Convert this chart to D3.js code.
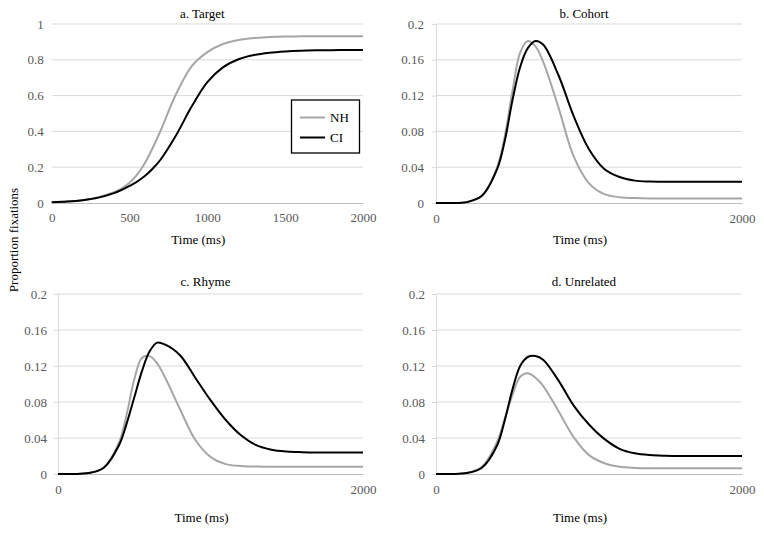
<!DOCTYPE html>
<html>
<head>
<meta charset="utf-8">
<script src="https://cdn.jsdelivr.net/npm/d3@7"></script>
<style>
  html, body { margin: 0; padding: 0; background: #fff; }
  svg text { font-family: "Liberation Serif", "DejaVu Serif", serif !important; }
</style>
</head>
<body>
<svg id="chart" width="764" height="534"></svg>
<script>
// ---- data ----
const times = [0,100,200,300,400,450,500,550,600,650,700,800,900,1000,1100,1200,1300,1400,1500,1600,1700,1800,1900,2000];

const targetNH = [0.004,0.008,0.016,0.032,0.06,0.082,0.113,0.16,0.225,0.31,0.405,0.61,0.765,0.843,0.888,0.911,0.922,0.927,0.93,0.931,0.932,0.932,0.932,0.932];
const targetCI = [0.004,0.008,0.016,0.03,0.055,0.073,0.095,0.12,0.152,0.193,0.243,0.38,0.54,0.675,0.758,0.803,0.827,0.84,0.847,0.851,0.853,0.854,0.855,0.855];

const cohortNH = [0,0,0.001,0.008,0.04,0.075,0.125,0.168,0.181,0.175,0.158,0.107,0.052,0.022,0.01,0.0065,0.0055,0.005,0.005,0.005,0.005,0.005,0.005,0.005];
const cohortCI = [0,0,0.001,0.008,0.038,0.07,0.115,0.152,0.173,0.181,0.177,0.143,0.097,0.06,0.038,0.029,0.025,0.024,0.0238,0.0238,0.0238,0.0238,0.0238,0.0238];

const rhymeNH = [0,0,0.001,0.007,0.035,0.066,0.105,0.129,0.131,0.123,0.108,0.072,0.038,0.019,0.011,0.0088,0.0082,0.008,0.008,0.008,0.008,0.008,0.008,0.008];
const rhymeCI = [0,0,0.001,0.007,0.032,0.056,0.085,0.114,0.136,0.146,0.144,0.132,0.107,0.082,0.06,0.043,0.032,0.027,0.025,0.0243,0.024,0.024,0.024,0.024];

const unrelNH = [0,0,0.001,0.008,0.036,0.062,0.088,0.108,0.112,0.107,0.098,0.07,0.041,0.021,0.012,0.008,0.0068,0.0063,0.0063,0.0063,0.0063,0.0063,0.0063,0.0063];
const unrelCI = [0,0,0.001,0.007,0.032,0.06,0.094,0.12,0.13,0.131,0.127,0.104,0.076,0.055,0.039,0.028,0.023,0.021,0.0203,0.02,0.02,0.02,0.02,0.02];

const panelTitles = ["a. Target", "b. Cohort", "c. Rhyme", "d. Unrelated"];
const targetYTicks = [0, 0.2, 0.4, 0.6, 0.8, 1];
const smallYTicks = [0, 0.04, 0.08, 0.12, 0.16, 0.2];
const targetXTicks = [0, 500, 1000, 1500, 2000];
const smallXTicks = [0, 2000];
const seriesNames = ["NH", "CI"];
const xTitle = "Time (ms)";
const yTitle = "Proportion fixations";

// ---- layout / styles ----
const FONT = "'Liberation Serif', 'DejaVu Serif', serif";
const colors = { NH: "#a6a6a6", CI: "#000000" };
const panels = [
  { title: panelTitles[0], nh: targetNH, ci: targetCI, yMax: 1,   yTicks: targetYTicks, xTicks: targetXTicks,
    x0: 51.7, x1: 363, y0: 203, y1: 24, yAxisLine: false,
    xLblY: 222, xTitleY: 244, titleY: 18, lblGap: 8 },
  { title: panelTitles[1], nh: cohortNH, ci: cohortCI, yMax: 0.2, yTicks: smallYTicks, xTicks: smallXTicks,
    x0: 436, x1: 742, y0: 203, y1: 24, yAxisLine: true,
    xLblY: 223, xTitleY: 244, titleY: 18, lblGap: 12 },
  { title: panelTitles[2], nh: rhymeNH, ci: rhymeCI, yMax: 0.2, yTicks: smallYTicks, xTicks: smallXTicks,
    x0: 58, x1: 363, y0: 474, y1: 294, yAxisLine: true,
    xLblY: 494, xTitleY: 522, titleY: 286, lblGap: 11 },
  { title: panelTitles[3], nh: unrelNH, ci: unrelCI, yMax: 0.2, yTicks: smallYTicks, xTicks: smallXTicks,
    x0: 436, x1: 742, y0: 474, y1: 294, yAxisLine: true,
    xLblY: 494, xTitleY: 522, titleY: 286, lblGap: 11 }
];

const svg = d3.select("#chart");

panels.forEach(p => {
  const x = d3.scaleLinear().domain([0, 2000]).range([p.x0, p.x1]);
  const y = d3.scaleLinear().domain([0, p.yMax]).range([p.y0, p.y1]);
  const g = svg.append("g");

  // gridlines
  g.append("g").selectAll("line").data(p.yTicks.filter(t => t > 0)).join("line")
    .attr("x1", p.x0).attr("x2", p.x1)
    .attr("y1", d => y(d)).attr("y2", d => y(d))
    .attr("stroke", "#d9d9d9").attr("stroke-width", 1);

  // y axis
  const yAxis = d3.axisLeft(y).tickValues(p.yTicks).tickFormat(d3.format("~g"))
    .tickSize(p.yAxisLine ? 4 : 0).tickPadding(p.yAxisLine ? p.lblGap - 4 : p.lblGap);
  const ya = g.append("g").attr("transform", `translate(${p.x0},0)`).call(yAxis)
    .attr("font-family", FONT).attr("font-size", 13);
  ya.select(".domain").attr("stroke", p.yAxisLine ? "#d9d9d9" : "none");
  ya.selectAll(".tick line").attr("stroke", "#d9d9d9");
  ya.selectAll("text").attr("fill", "#595959").attr("font-family", FONT).attr("font-size", 13);

  // x axis
  const xAxis = d3.axisBottom(x).tickValues(p.xTicks).tickFormat(d3.format("d")).tickSize(0).tickPadding(0);
  const xa = g.append("g").attr("transform", `translate(0,${p.y0})`).call(xAxis)
    .attr("font-family", FONT).attr("font-size", 13);
  xa.select(".domain").attr("stroke", "#bfbfbf");
  xa.selectAll("text").attr("fill", "#595959").attr("font-family", FONT).attr("font-size", 13)
    .attr("dy", null).attr("y", p.xLblY - p.y0);

  // lines
  const line = d3.line().x((d, i) => x(times[i])).y(d => y(Math.max(0, d))).curve(d3.curveCatmullRom.alpha(0.5));
  g.append("path").datum(p.nh).attr("d", line).attr("fill", "none")
    .attr("stroke", colors.NH).attr("stroke-width", 2);
  g.append("path").datum(p.ci).attr("d", line).attr("fill", "none")
    .attr("stroke", colors.CI).attr("stroke-width", 2);

  // title
  g.append("text").attr("x", (p.x0 + p.x1) / 2 - 5).attr("y", p.titleY).attr("text-anchor", "middle")
    .attr("font-family", FONT).attr("font-size", 13).attr("fill", "#000").text(p.title);
  // x title
  g.append("text").attr("x", (p.x0 + p.x1) / 2 - 9).attr("y", p.xTitleY).attr("text-anchor", "middle")
    .attr("font-family", FONT).attr("font-size", 13).attr("fill", "#000").text(xTitle);
});

// y axis title
svg.append("text")
  .attr("transform", "translate(18,240) rotate(-90)")
  .attr("text-anchor", "middle")
  .attr("font-family", FONT).attr("font-size", 13).attr("fill", "#000").text(yTitle);

// legend
const lg = svg.append("g");
lg.append("rect").attr("x", 291.5).attr("y", 100).attr("width", 68).attr("height", 53)
  .attr("fill", "#fff").attr("stroke", "#000").attr("stroke-width", 1.3);
const legendY = d3.scalePoint().domain(seriesNames).range([117.5, 137.5]);
seriesNames.forEach(n => {
  lg.append("line").attr("x1", 300).attr("x2", 325).attr("y1", legendY(n)).attr("y2", legendY(n))
    .attr("stroke", colors[n]).attr("stroke-width", 2);
  lg.append("text").attr("x", 330).attr("y", legendY(n)).attr("dy", "0.35em")
    .attr("font-family", FONT).attr("font-size", 13).attr("fill", "#000").text(n);
});
</script>
</body>
</html>
